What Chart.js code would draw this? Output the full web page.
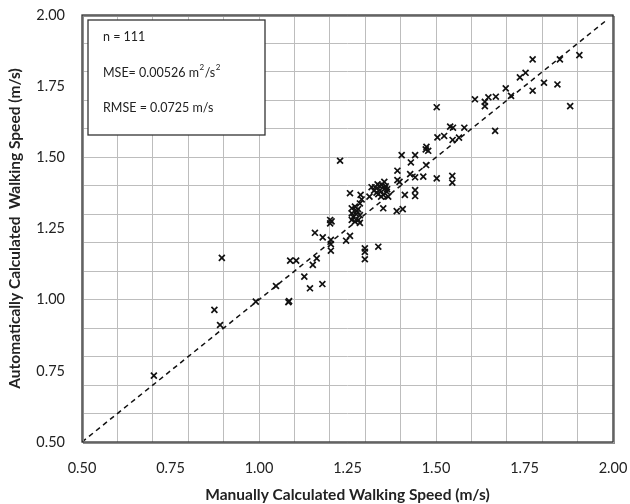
<!DOCTYPE html>
<html>
<head>
<meta charset="utf-8">
<script src="https://cdn.jsdelivr.net/npm/chart.js@4"></script>
<style>
  body { margin: 0; background: #fff; }
</style>
</head>
<body>
<canvas id="grafico" width="630" height="504"></canvas>
<script>
// Velocidad manual (x) y automática (y), m/s
const manualSpeed = [
    0.703, 0.874, 0.890, 0.895, 0.991, 1.083, 1.085, 1.048, 1.088, 1.105,
    1.128, 1.144, 1.152, 1.163, 1.179, 1.158, 1.180, 1.203, 1.203, 1.203,
    1.201, 1.201, 1.246, 1.257, 1.299, 1.299, 1.299, 1.337, 1.262, 1.271,
    1.276, 1.262, 1.266, 1.281, 1.271, 1.262, 1.285, 1.285, 1.285, 1.257,
    1.287, 1.312, 1.354, 1.347, 1.328, 1.318, 1.356, 1.342, 1.361, 1.337,
    1.365, 1.351, 1.332, 1.340, 1.358, 1.345, 1.325, 1.351, 1.389, 1.406,
    1.412, 1.441, 1.441, 1.391, 1.397, 1.391, 1.427, 1.441, 1.464, 1.502,
    1.546, 1.546, 1.229, 1.403, 1.441, 1.429, 1.472, 1.473, 1.478, 1.471,
    1.504, 1.523, 1.547, 1.565, 1.540, 1.548, 1.580, 1.502, 1.667, 1.610,
    1.638, 1.638, 1.648, 1.669, 1.697, 1.712, 1.737, 1.753, 1.773, 1.773,
    1.805, 1.843, 1.850, 1.905, 1.879, 1.335, 1.362, 1.275, 1.280, 1.205,
    1.290
];
const autoSpeed = [
    0.733, 0.964, 0.911, 1.147, 0.993, 0.991, 0.995, 1.048, 1.137, 1.137,
    1.081, 1.040, 1.122, 1.145, 1.055, 1.235, 1.219, 1.210, 1.195, 1.172,
    1.280, 1.268, 1.207, 1.224, 1.142, 1.168, 1.180, 1.186, 1.321, 1.327,
    1.311, 1.303, 1.291, 1.280, 1.274, 1.280, 1.297, 1.338, 1.270, 1.374,
    1.368, 1.362, 1.414, 1.403, 1.395, 1.395, 1.391, 1.385, 1.379, 1.371,
    1.362, 1.368, 1.376, 1.400, 1.398, 1.362, 1.383, 1.321, 1.311, 1.318,
    1.368, 1.385, 1.364, 1.420, 1.414, 1.453, 1.441, 1.430, 1.432, 1.426,
    1.435, 1.411, 1.488, 1.508, 1.508, 1.482, 1.473, 1.537, 1.523, 1.528,
    1.570, 1.575, 1.561, 1.569, 1.608, 1.604, 1.604, 1.676, 1.593, 1.704,
    1.695, 1.680, 1.711, 1.713, 1.742, 1.716, 1.781, 1.797, 1.844, 1.734,
    1.762, 1.756, 1.844, 1.859, 1.680, 1.405, 1.388, 1.300, 1.318, 1.275,
    1.352
];

// Línea 1:1
const lineaX = [0.5, 1.985];
const lineaY = [0.5, 1.985];

// Etiquetas de ejes
const tickLabels = [0.5, 0.75, 1.0, 1.25, 1.5, 1.75, 2.0];
const gridStep = 0.1;

const statsText = ['n = 111', 'MSE= 0.00526 m', 'RMSE = 0.0725 m/s'];

const FUENTE = 'Lato';

const esMultiplo = (v, paso) => Math.abs(v / paso - Math.round(v / paso)) < 1e-6;

// ticks = líneas de cuadrícula cada 0.1 + etiquetas cada 0.25
function construirTicks(scale) {
    const vals = [];
    for (let v = 0.5; v <= 2.0001; v += gridStep) vals.push(Math.round(v * 100) / 100);
    tickLabels.forEach(v => { if (!vals.some(x => Math.abs(x - v) < 1e-6)) vals.push(v); });
    vals.sort((a, b) => a - b);
    scale.ticks = vals.map(v => ({ value: v }));
}

const puntos = manualSpeed.map((x, i) => ({ x: x, y: autoSpeed[i] }));
const linea = lineaX.map((x, i) => ({ x: x, y: lineaY[i] }));

const marcoPlugin = {
    id: 'marco',
    beforeDraw(chart) {
        const ctx = chart.ctx;
        ctx.save();
        ctx.fillStyle = '#fff';
        ctx.fillRect(0, 0, chart.width, chart.height);
        ctx.restore();
    },
    afterDraw(chart) {
        const ctx = chart.ctx;
        const a = chart.chartArea;
        ctx.save();
        // marco del área de trazado
        ctx.strokeStyle = '#8c8c8c';
        ctx.lineWidth = 1;
        ctx.strokeRect(a.left + 1.5, a.top + 1.5, a.right - a.left, a.bottom - a.top);
        ctx.strokeStyle = '#333';
        ctx.lineWidth = 1.3;
        ctx.strokeRect(a.left, a.top, a.right - a.left, a.bottom - a.top);

        // cuadro de estadísticas
        const bx = 88, by = 20, bw = 177, bh = 115;
        ctx.fillStyle = '#fff';
        ctx.fillRect(bx, by, bw, bh);
        ctx.strokeStyle = '#333';
        ctx.lineWidth = 1.3;
        ctx.strokeRect(bx, by, bw, bh);

        ctx.fillStyle = '#222';
        ctx.textBaseline = 'middle';
        ctx.textAlign = 'left';
        const normal = '12.5px ' + FUENTE;
        const sup = '8px ' + FUENTE;
        ctx.font = normal;
        const tx = 103;
        ctx.fillText(statsText[0], tx, 37);

        ctx.fillText(statsText[1], tx, 73);
        let w = ctx.measureText(statsText[1]).width;
        ctx.font = sup;
        ctx.fillText('2', tx + w + 0.5, 67);
        let w2 = ctx.measureText('2').width;
        ctx.font = normal;
        ctx.fillText('/s', tx + w + w2 + 1, 73);
        let w3 = ctx.measureText('/s').width;
        ctx.font = sup;
        ctx.fillText('2', tx + w + w2 + w3 + 1.5, 67);

        ctx.font = normal;
        ctx.fillText(statsText[2], tx, 108);
        ctx.restore();
    }
};

const ejeComun = {
    type: 'linear',
    min: 0.5,
    max: 2.0,
    afterBuildTicks: construirTicks,
    border: { display: false },
    grid: {
        drawTicks: false,
        lineWidth: 1,
        color: (c) => (c.tick && esMultiplo(c.tick.value, gridStep)) ? '#bdbdbd' : 'rgba(0,0,0,0)',
        borderDash: [2, 2]
    }
};

new Chart(document.getElementById('grafico'), {
    type: 'scatter',
    data: {
        datasets: [
            {
                label: 'datos',
                data: puntos,
                pointStyle: 'crossRot',
                pointRadius: 4.2,
                pointBorderWidth: 1.7,
                borderColor: '#111',
                backgroundColor: '#111'
            },
            {
                label: '1:1',
                type: 'line',
                data: linea,
                borderColor: '#111',
                borderWidth: 1.5,
                borderDash: [5, 4],
                pointRadius: 0,
                fill: false
            }
        ]
    },
    options: {
        responsive: false,
        animation: false,
        layout: { padding: { top: 15, right: 17, left: 0, bottom: 0 } },
        plugins: {
            legend: { display: false },
            tooltip: { enabled: false }
        },
        scales: {
            x: Object.assign({}, ejeComun, {
                position: 'bottom',
                afterFit: (s) => { s.height = 62; s.paddingLeft = 0; s.paddingRight = 0; },
                ticks: {
                    autoSkip: false,
                    maxRotation: 0,
                    padding: 18,
                    color: '#222',
                    font: { family: FUENTE, size: 14.5 },
                    callback: (v) => tickLabels.some(t => Math.abs(t - v) < 1e-6) ? v.toFixed(2) : ''
                },
                title: {
                    display: true,
                    text: 'Manually Calculated Walking Speed (m/s)',
                    color: '#222',
                    font: { family: FUENTE, size: 15.5, weight: 'bold' },
                    padding: { top: 0, bottom: 0 }
                }
            }),
            y: Object.assign({}, ejeComun, {
                position: 'left',
                afterFit: (s) => { s.width = 82; s.paddingTop = 0; s.paddingBottom = 0; },
                ticks: {
                    autoSkip: false,
                    padding: 17,
                    color: '#222',
                    font: { family: FUENTE, size: 14.5 },
                    callback: (v) => tickLabels.some(t => Math.abs(t - v) < 1e-6) ? v.toFixed(2) : ''
                },
                title: {
                    display: true,
                    text: 'Automatically Calculated  Walking Speed (m/s)',
                    color: '#222',
                    font: { family: FUENTE, size: 15.5, weight: 'bold' },
                    padding: { top: 6, bottom: 0 }
                }
            })
        }
    },
    plugins: [marcoPlugin]
});
</script>
</body>
</html>
